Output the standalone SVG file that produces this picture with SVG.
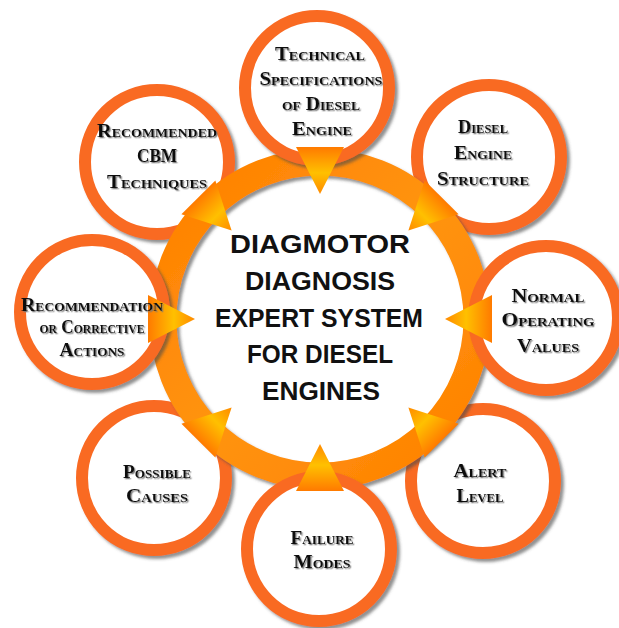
<svg xmlns="http://www.w3.org/2000/svg" width="619" height="628" viewBox="0 0 619 628">
  <defs>
    <filter id="shadow" x="-20%" y="-20%" width="140%" height="140%">
      <feDropShadow dx="3" dy="3" stdDeviation="1.6" flood-color="#4a4a4a" flood-opacity="0.6"/>
    </filter>
    <filter id="txtShadow" x="-15%" y="-30%" width="130%" height="160%">
      <feDropShadow dx="1.3" dy="1.3" stdDeviation="0.6" flood-color="#777" flood-opacity="0.9"/>
    </filter>
    <linearGradient id="bandGrad" x1="0" y1="0" x2="1" y2="1">
      <stop offset="0" stop-color="#FF7F00"/>
      <stop offset="0.5" stop-color="#FF9410"/>
      <stop offset="1" stop-color="#FF8000"/>
    </linearGradient>
    <!-- arrowhead pointing down toward the hub, drawn for the top slot -->
    <linearGradient id="headGrad" gradientUnits="userSpaceOnUse" x1="0" y1="147" x2="0" y2="194">
      <stop offset="0" stop-color="#FF7A00"/>
      <stop offset="0.55" stop-color="#FFC000"/>
      <stop offset="1" stop-color="#FF8A00"/>
    </linearGradient>
    <polygon id="head" points="296,147 344,147 320,194" fill="url(#headGrad)"/>
  </defs>
  <style>
    .ring { fill: #fff; stroke: #F96A24; stroke-width: 12; filter: url(#shadow); }
    .lbl { font-family: "Liberation Serif", "DejaVu Serif", serif; font-weight: bold; font-variant: small-caps; font-size: 19px; fill: #111; text-anchor: middle; filter: url(#txtShadow); }
    .hub { font-family: "Liberation Sans", Arial, sans-serif; font-weight: bold; font-size: 25px; fill: #111; text-anchor: middle; }
  </style>

  <rect width="619" height="628" fill="#fff"/>

  <!-- diagonal satellites sit beneath the cycle band -->
  <g id="n-cbm"><circle class="ring" cx="157" cy="162" r="72"/></g>
  <g id="n-structure"><circle class="ring" cx="489" cy="157" r="72"/></g>
  <g id="n-alert"><circle class="ring" cx="483" cy="481" r="72"/></g>
  <g id="n-causes"><circle class="ring" cx="154" cy="478" r="72"/></g>

  <!-- cycle band -->
  <g id="connectors">
    <circle cx="320" cy="319" r="157" fill="none" stroke="url(#bandGrad)" stroke-width="27" filter="url(#shadow)"/>
  </g>

  <!-- cardinal satellites sit above the band -->
  <g id="n-specs"><circle class="ring" cx="317" cy="88" r="72"/></g>
  <g id="n-normal"><circle class="ring" cx="546" cy="318" r="72"/></g>
  <g id="n-failure"><circle class="ring" cx="319" cy="549" r="72"/></g>
  <g id="n-actions"><circle class="ring" cx="92" cy="312" r="72"/></g>

  <!-- arrowheads, one per satellite, all pointing to the hub -->
  <g id="arrowheads">
    <use href="#head"/>
    <use href="#head" transform="rotate(45 320 319)"/>
    <use href="#head" transform="rotate(90 320 319)"/>
    <use href="#head" transform="rotate(135 320 319)"/>
    <use href="#head" transform="rotate(180 320 319)"/>
    <use href="#head" transform="rotate(225 320 319)"/>
    <use href="#head" transform="rotate(270 320 319)"/>
    <use href="#head" transform="rotate(315 320 319)"/>
  </g>

  <!-- satellite labels, kept above the arrowheads -->
  <g id="n-specs-label">
    <text class="lbl" x="320" y="60" textLength="90" lengthAdjust="spacingAndGlyphs">Technical</text>
    <text class="lbl" x="321" y="85" textLength="123" lengthAdjust="spacingAndGlyphs">Specifications</text>
    <text class="lbl" x="321" y="110" textLength="78" lengthAdjust="spacingAndGlyphs">of Diesel</text>
    <text class="lbl" x="322" y="135" textLength="60" lengthAdjust="spacingAndGlyphs">Engine</text>
  </g>
  <g id="n-structure-label">
    <text class="lbl" x="483" y="133" textLength="50" lengthAdjust="spacingAndGlyphs">Diesel</text>
    <text class="lbl" x="483" y="159" textLength="58" lengthAdjust="spacingAndGlyphs">Engine</text>
    <text class="lbl" x="483" y="185" textLength="92" lengthAdjust="spacingAndGlyphs">Structure</text>
  </g>
  <g id="n-normal-label">
    <text class="lbl" x="548" y="302" textLength="73" lengthAdjust="spacingAndGlyphs">Normal</text>
    <text class="lbl" x="548" y="326" textLength="93" lengthAdjust="spacingAndGlyphs">Operating</text>
    <text class="lbl" x="548" y="352" textLength="62" lengthAdjust="spacingAndGlyphs">Values</text>
  </g>
  <g id="n-alert-label">
    <text class="lbl" x="480" y="477" textLength="53" lengthAdjust="spacingAndGlyphs">Alert</text>
    <text class="lbl" x="480" y="502" textLength="47" lengthAdjust="spacingAndGlyphs">Level</text>
  </g>
  <g id="n-failure-label">
    <text class="lbl" x="322" y="544" textLength="63" lengthAdjust="spacingAndGlyphs">Failure</text>
    <text class="lbl" x="322" y="568" textLength="57" lengthAdjust="spacingAndGlyphs">Modes</text>
  </g>
  <g id="n-causes-label">
    <text class="lbl" x="157" y="478" textLength="68" lengthAdjust="spacingAndGlyphs">Possible</text>
    <text class="lbl" x="157" y="502" textLength="62" lengthAdjust="spacingAndGlyphs">Causes</text>
  </g>
  <g id="n-actions-label">
    <text class="lbl" x="92" y="311" textLength="142" lengthAdjust="spacingAndGlyphs">Recommendation</text>
    <text class="lbl" x="92" y="333" textLength="105" lengthAdjust="spacingAndGlyphs">or Corrective</text>
    <text class="lbl" x="92" y="356" textLength="65" lengthAdjust="spacingAndGlyphs">Actions</text>
  </g>
  <g id="n-cbm-label">
    <text class="lbl" x="157" y="137" textLength="120" lengthAdjust="spacingAndGlyphs">Recommended</text>
    <text class="lbl" x="157" y="162" textLength="40" lengthAdjust="spacingAndGlyphs">CBM</text>
    <text class="lbl" x="157" y="188" textLength="100" lengthAdjust="spacingAndGlyphs">Techniques</text>
  </g>

  <!-- hub title -->
  <g id="n-hub">
    <text class="hub" x="320" y="253" textLength="180" lengthAdjust="spacingAndGlyphs">DIAGMOTOR</text>
    <text class="hub" x="320" y="290" textLength="150" lengthAdjust="spacingAndGlyphs">DIAGNOSIS</text>
    <text class="hub" x="319" y="327" textLength="208" lengthAdjust="spacingAndGlyphs">EXPERT SYSTEM</text>
    <text class="hub" x="320" y="363" textLength="146" lengthAdjust="spacingAndGlyphs">FOR DIESEL</text>
    <text class="hub" x="321" y="400" textLength="118" lengthAdjust="spacingAndGlyphs">ENGINES</text>
  </g>
</svg>
